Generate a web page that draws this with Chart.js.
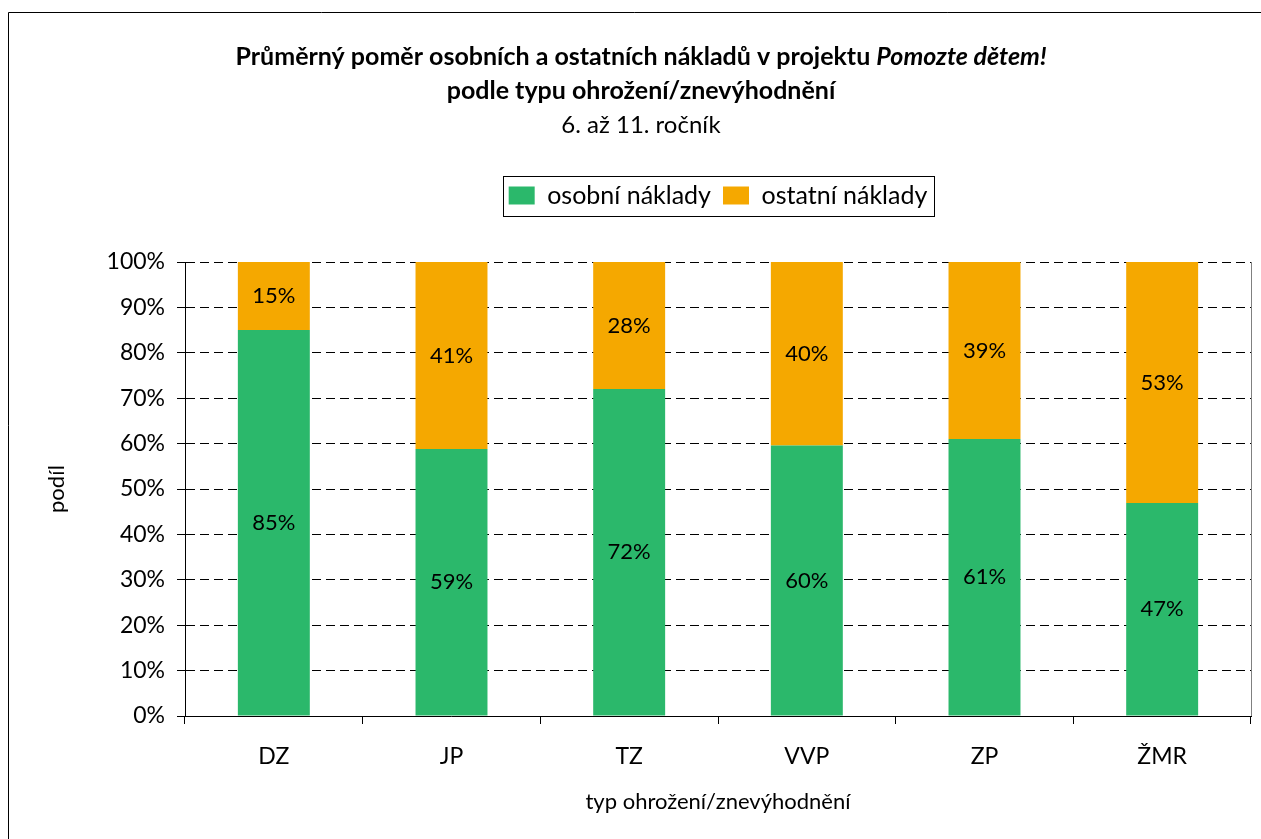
<!DOCTYPE html>
<html>
<head>
<meta charset="utf-8">
<title>Průměrný poměr osobních a ostatních nákladů</title>
<script src="https://cdn.jsdelivr.net/npm/chart.js@4.4.0/dist/chart.umd.min.js"></script>
<style>
  body { margin: 0; background: #fff; }
  canvas { display: block; }
</style>
</head>
<body>
<canvas id="ratio-chart" width="1261" height="839"></canvas>
<script>
// values (share of costs in %)
let categories = ["DZ", "JP", "TZ", "VVP", "ZP", "ŽMR"];
let personalCosts = [85, 58.8, 72, 59.6, 61, 46.9];
let otherCosts = [15, 41.2, 28, 40.4, 39, 53.1];
let yTickValues = [0, 10, 20, 30, 40, 50, 60, 70, 80, 90, 100];

let titleLine1 = "Průměrný poměr osobních a ostatních nákladů v projektu ";
let titleItalic = "Pomozte dětem!";
let titleLine2 = "podle typu ohrožení/znevýhodnění";
let titleLine3 = "6. až 11. ročník";

let fontName = "Lato";
let greenColor = "#2bb86b";
let orangeColor = "#f5a800";

/* frame of the whole chart, title, legend box, right plot edge and bar labels */
let decorPlugin = {
  id: "decor",
  beforeDraw(chart) {
    let ctx = chart.ctx;
    ctx.save();
    ctx.fillStyle = "#fff";
    ctx.fillRect(0, 0, chart.width, chart.height);
    ctx.strokeStyle = "#000";
    ctx.lineWidth = 1;
    ctx.beginPath();
    ctx.moveTo(8.5, chart.height);
    ctx.lineTo(8.5, 12.5);
    ctx.lineTo(chart.width, 12.5);
    ctx.stroke();
    ctx.restore();
  },
  afterDraw(chart) {
    let ctx = chart.ctx;
    let area = chart.chartArea;
    ctx.save();

    // right edge of the plot
    ctx.strokeStyle = "#808080";
    ctx.lineWidth = 1;
    ctx.beginPath();
    ctx.moveTo(Math.round(area.right) + 0.5, area.top);
    ctx.lineTo(Math.round(area.right) + 0.5, area.bottom);
    ctx.stroke();

    // legend frame
    let boxes = chart.legend.legendHitBoxes;
    let left = Math.min(...boxes.map(b => b.left)) - 6;
    let right = Math.max(...boxes.map(b => b.left + b.width)) + 6;
    let mid = boxes[0].top + boxes[0].height / 2;
    ctx.strokeStyle = "#000";
    ctx.strokeRect(Math.round(left) + 0.5, Math.round(mid - 20) + 0.5, Math.round(right - left), 40);

    // title, the project name is in italics
    let cx = 641;
    ctx.fillStyle = "#000";
    ctx.textBaseline = "middle";
    ctx.textAlign = "left";
    ctx.font = "bold 25px " + fontName;
    let w1 = ctx.measureText(titleLine1).width;
    ctx.font = "italic bold 25px " + fontName;
    let w2 = ctx.measureText(titleItalic).width;
    let x = cx - (w1 + w2) / 2;
    ctx.font = "bold 25px " + fontName;
    ctx.fillText(titleLine1, x, 57);
    ctx.font = "italic bold 25px " + fontName;
    ctx.fillText(titleItalic, x + w1, 57);
    ctx.textAlign = "center";
    ctx.font = "bold 25px " + fontName;
    ctx.fillText(titleLine2, cx, 91);
    ctx.font = "24px " + fontName;
    ctx.fillText(titleLine3, cx, 125);
    ctx.restore();
  },
  afterDatasetsDraw(chart) {
    let ctx = chart.ctx;
    ctx.save();
    ctx.fillStyle = "#000";
    ctx.font = "22px " + fontName;
    ctx.textAlign = "center";
    ctx.textBaseline = "middle";
    chart.data.datasets.forEach(function (ds, i) {
      chart.getDatasetMeta(i).data.forEach(function (bar, j) {
        let y = (bar.y + bar.base) / 2;
        ctx.fillText(Math.round(ds.data[j]) + "%", bar.x, y);
      });
    });
    ctx.restore();
  },
};

let context = document.querySelector("#ratio-chart").getContext("2d");

let ratioChart = new Chart(context, {
  type: "bar",
  data: {
    labels: categories,
    datasets: [
      {
        label: "osobní náklady",
        data: personalCosts,
        backgroundColor: greenColor,
        barPercentage: 0.405,
        categoryPercentage: 1,
      },
      {
        label: "ostatní náklady",
        data: otherCosts,
        backgroundColor: orangeColor,
        barPercentage: 0.405,
        categoryPercentage: 1,
      },
    ],
  },
  options: {
    responsive: false,
    animation: false,
    devicePixelRatio: 1,
    layout: { padding: { top: 171, left: 0, right: 10, bottom: 0 } },
    plugins: {
      legend: {
        position: "top",
        fullSize: false,
        labels: {
          font: { family: fontName, size: 25 },
          color: "#000",
          boxWidth: 26,
          boxHeight: 18,
          padding: 12,
        },
      },
      // empty subtitle used as a gap between the legend and the plot
      subtitle: {
        display: true,
        text: "",
        fullSize: false,
        weight: 500,
        padding: 0,
        font: { size: 44, lineHeight: 1 },
      },
      tooltip: { enabled: false },
    },
    scales: {
      x: {
        stacked: true,
        grid: {
          display: true,
          drawOnChartArea: false,
          tickLength: 8,
          color: "#000",
        },
        border: { color: "#000", width: 1 },
        ticks: { font: { family: fontName, size: 23 }, color: "#000", padding: 19 },
        title: {
          display: true,
          text: "typ ohrožení/znevýhodnění",
          font: { family: fontName, size: 22 },
          color: "#000",
          padding: { top: 0, bottom: 24 },
        },
        afterFit: function (scale) {
          scale.height = 123;
        },
      },
      y: {
        stacked: true,
        min: 0,
        max: 100,
        afterBuildTicks: function (scale) {
          scale.ticks = yTickValues.map(v => ({ value: v }));
        },
        ticks: {
          callback: v => v + "%",
          font: { family: fontName, size: 23 },
          color: "#000",
          padding: 12,
        },
        grid: {
          color: "#000",
          lineWidth: 1,
          tickLength: 8,
          tickColor: "#000",
          tickBorderDash: [],
        },
        border: { color: "#000", width: 1, dash: [9, 5] },
        title: {
          display: true,
          text: "podíl",
          font: { family: fontName, size: 22 },
          color: "#000",
          padding: { top: 44, bottom: 0 },
        },
        afterFit: function (scale) {
          scale.width = 185;
        },
      },
    },
  },
  plugins: [decorPlugin],
});
</script>
</body>
</html>
